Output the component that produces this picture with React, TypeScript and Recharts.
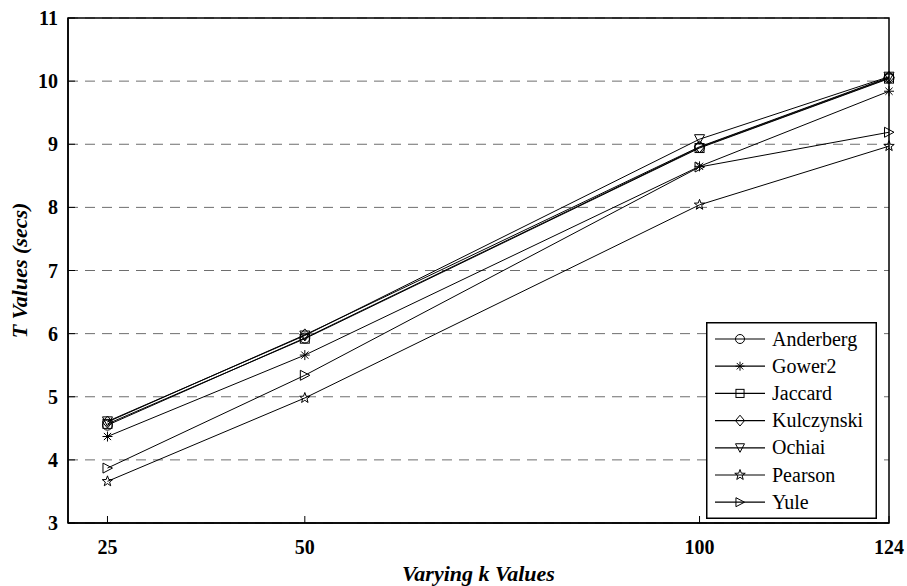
import React from 'react';
import { LineChart, Line, XAxis, YAxis, CartesianGrid, Legend, ReferenceArea } from 'recharts';

// k values on the x axis
const kValues = [25, 50, 100, 124];
const xTicks = [25, 50, 100, 124];
const yTicks = [3, 4, 5, 6, 7, 8, 9, 10, 11];

// T values (secs) for each measure
const anderberg = [4.55, 5.93, 8.95, 10.05];
const gower2 = [4.37, 5.66, 8.65, 9.84];
const jaccard = [4.57, 5.92, 8.94, 10.04];
const kulczynski = [4.6, 5.98, 8.96, 10.06];
const ochiai = [4.61, 5.97, 9.08, 10.07];
const pearson = [3.66, 4.98, 8.04, 8.97];
const yule = [3.87, 5.34, 8.64, 9.19];

const series = [
  { name: 'Anderberg', values: anderberg, marker: 'circle' },
  { name: 'Gower2', values: gower2, marker: 'asterisk' },
  { name: 'Jaccard', values: jaccard, marker: 'square' },
  { name: 'Kulczynski', values: kulczynski, marker: 'diamond' },
  { name: 'Ochiai', values: ochiai, marker: 'triangleDown' },
  { name: 'Pearson', values: pearson, marker: 'star' },
  { name: 'Yule', values: yule, marker: 'triangleRight' },
];

const data = kValues.map((k, i) => {
  const row: Record<string, number> = { k };
  series.forEach(s => { row[s.name] = s.values[i]; });
  return row;
});

const FONT = '"Times New Roman", Times, "Liberation Serif", Tinos, "DejaVu Serif", "Noto Serif", serif';

const Marker = ({ shape, cx, cy, r = 5 }: { shape: string; cx: number; cy: number; r?: number }) => {
  const common = { fill: 'none', stroke: '#000', strokeWidth: 1 };
  switch (shape) {
    case 'circle':
      return <circle cx={cx} cy={cy} r={r} {...common} />;
    case 'asterisk': {
      const d = r * 0.72;
      return (
        <g {...common}>
          <line x1={cx - r} y1={cy} x2={cx + r} y2={cy} />
          <line x1={cx} y1={cy - r} x2={cx} y2={cy + r} />
          <line x1={cx - d} y1={cy - d} x2={cx + d} y2={cy + d} />
          <line x1={cx - d} y1={cy + d} x2={cx + d} y2={cy - d} />
        </g>
      );
    }
    case 'square':
      return <rect x={cx - r * 0.9} y={cy - r * 0.9} width={r * 1.8} height={r * 1.8} {...common} />;
    case 'diamond':
      return <polygon points={`${cx},${cy - r * 1.2} ${cx + r},${cy} ${cx},${cy + r * 1.2} ${cx - r},${cy}`} {...common} />;
    case 'triangleDown':
      return <polygon points={`${cx - r},${cy - r * 0.9} ${cx + r},${cy - r * 0.9} ${cx},${cy + r}`} {...common} />;
    case 'triangleRight':
      return <polygon points={`${cx - r * 0.9},${cy - r} ${cx + r},${cy} ${cx - r * 0.9},${cy + r}`} {...common} />;
    case 'star': {
      const pts: string[] = [];
      for (let i = 0; i < 10; i++) {
        const rad = i % 2 === 0 ? r * 1.1 : r * 0.45;
        const a = -Math.PI / 2 + (i * Math.PI) / 5;
        pts.push(`${cx + rad * Math.cos(a)},${cy + rad * Math.sin(a)}`);
      }
      return <polygon points={pts.join(' ')} {...common} />;
    }
    default:
      return null;
  }
};

const LegendBox = () => (
  <svg width={171} height={197} style={{ display: 'block' }}>
    <rect x={0.75} y={0.75} width={169.5} height={195.5} fill="#fff" stroke="#000" strokeWidth={1.5} />
    {series.map((s, i) => {
      const y = 17 + i * 27.2;
      return (
        <g key={s.name}>
          <line x1={9} y1={y} x2={59} y2={y} stroke="#000" strokeWidth={1.2} />
          <Marker shape={s.marker} cx={34} cy={y} r={s.marker === 'star' ? 5 : 4.5} />
          <text x={66} y={y + 6.5} style={{ fontFamily: FONT, fontSize: 20 }} fill="#000">{s.name}</text>
        </g>
      );
    })}
  </svg>
);

const tickStyle = { fill: '#000', fontSize: 20, fontWeight: 700, fontFamily: FONT, style: { fontFamily: FONT } };

export default function App() {
  return (
    <div style={{ position: 'absolute', left: 0, top: 0, width: 907, height: 586, background: '#fff', fontFamily: FONT }}>
      <LineChart width={907} height={586} data={data} margin={{ top: 18, right: 18, bottom: 0, left: 0 }}>
        <CartesianGrid vertical={false} stroke="#6e6e6e" strokeDasharray="10 7" strokeWidth={1} />
        <XAxis
          dataKey="k"
          type="number"
          domain={[20, 124]}
          ticks={xTicks}
          height={63}
          tickSize={-7}
          tickMargin={24}
          tick={tickStyle}
          tickLine={{ stroke: '#000' }}
          axisLine={{ stroke: '#000', strokeWidth: 1.5 }}
          label={({ viewBox }: any) => (
            <text
              x={viewBox.x + viewBox.width / 2}
              y={viewBox.y + 58}
              textAnchor="middle"
              style={{ fontFamily: FONT, fontSize: 22, fontStyle: 'italic', fontWeight: 700 }}
              fill="#000"
            >
              Varying k Values
            </text>
          )}
        />
        <YAxis
          type="number"
          domain={[3, 11]}
          ticks={yTicks}
          width={68}
          tickSize={-7}
          tickMargin={17}
          tick={tickStyle}
          tickLine={{ stroke: '#000' }}
          axisLine={{ stroke: '#000', strokeWidth: 1.5 }}
          label={({ viewBox }: any) => {
            const cx = viewBox.x + 19;
            const cy = viewBox.y + viewBox.height / 2;
            return (
              <text
                x={cx}
                y={cy}
                transform={`rotate(-90 ${cx} ${cy})`}
                textAnchor="middle"
                dominantBaseline="central"
                style={{ fontFamily: FONT, fontSize: 22, fontStyle: 'italic', fontWeight: 700 }}
                fill="#000"
              >
                T Values (secs)
              </text>
            );
          }}
        />
        <ReferenceArea x1={20} x2={124} y1={3} y2={11} fill="none" stroke="#000" strokeWidth={1.5} ifOverflow="visible" />
        {series.map(s => (
          <Line
            key={s.name}
            dataKey={s.name}
            stroke="#000"
            strokeWidth={1}
            isAnimationActive={false}
            dot={(p: any) => <Marker key={`${s.name}-${p.index}`} shape={s.marker} cx={p.cx} cy={p.cy} />}
            activeDot={false}
          />
        ))}
        <Legend
          layout="vertical"
          align="center"
          verticalAlign="middle"
          wrapperStyle={{ left: 706, top: 322, width: 171, height: 197 }}
          content={() => <LegendBox />}
        />
      </LineChart>
    </div>
  );
}
